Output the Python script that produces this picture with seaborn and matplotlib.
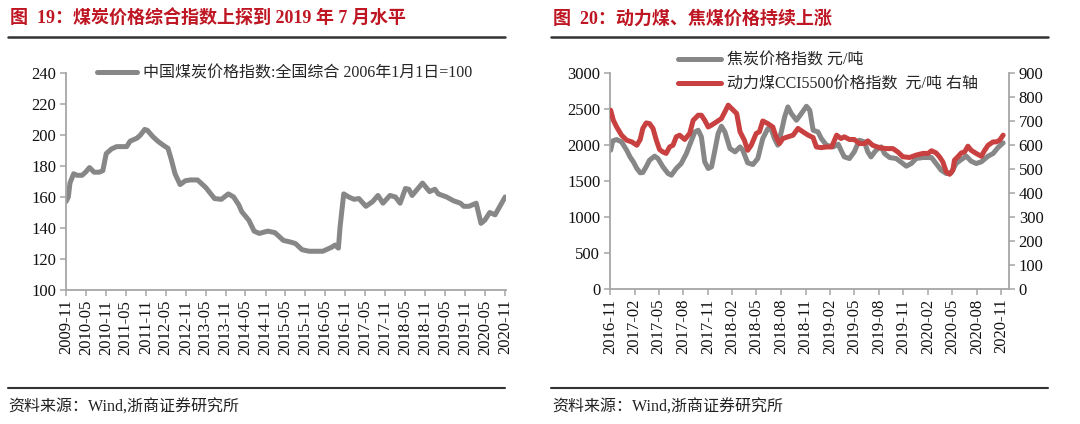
import numpy as np
import pandas as pd
import matplotlib
matplotlib.use('Agg')
import matplotlib.pyplot as plt
import seaborn as sns
from matplotlib.lines import Line2D

sns.set_theme(style='ticks')
plt.rcParams['font.family'] = ['Liberation Serif', 'Noto Sans CJK SC', 'DejaVu Sans']

# ---------------- data: left chart (China coal price index) ----------------
COAL_BASE = '2009-11-01'
COAL_MONTHS = [0, 0.7, 1.2, 2.3, 3.3, 4.9, 5.9, 7.1, 8.5, 10, 11.1, 12.1, 13.7, 15.2, 18.3,
               19.3, 21.4, 22.4, 23.7, 24.5, 26.1, 27.6, 29.2, 30.7, 31.7, 32.8, 34.3, 35.9,
               37.4, 39.5, 41.1, 42.1, 44.7, 46.7, 48.8, 50.4, 51.9, 52.9, 55, 56.6, 58.1,
               60.7, 62.8, 65.4, 67.4, 69, 71, 73.1, 77.2, 79.8, 80.9, 81.9, 82.4, 83.5, 85,
               86.6, 88.1, 90.2, 92.2, 93.8, 95.3, 97.4, 99, 100.5, 102.1, 103.1, 104.1,
               107.2, 109.3, 110.9, 111.9, 114.5, 116.5, 118.6, 119.6, 121.2, 123.3, 124.8,
               125.9, 127.4, 129, 132]
COAL_VALUES = [157, 160, 169, 175, 174, 174, 176, 179, 176, 176, 177, 188, 191, 192.5, 192.5,
               196, 198, 200, 203.6, 203, 199, 196, 193.5, 191.4, 184, 175, 168, 170.5,
               171, 171, 168, 166, 159, 158.5, 162, 160, 155, 150.5, 145, 138, 136.5,
               138, 137, 132, 131, 130, 126, 125, 125, 127.5, 129, 127, 141, 162, 160,
               158.5, 159, 154, 157, 161, 156, 161, 160, 156, 165.5, 165, 161,
               169, 163.5, 165, 162, 160, 157.6, 156, 154, 154, 156, 143,
               145, 150, 148.5, 160]
LEFT_TICKS = ['2009-11', '2010-05', '2010-11', '2011-05', '2011-11', '2012-05', '2012-11',
              '2013-05', '2013-11', '2014-05', '2014-11', '2015-05', '2015-11', '2016-05',
              '2016-11', '2017-05', '2017-11', '2018-05', '2018-11', '2019-05', '2019-11',
              '2020-05', '2020-11']
LEFT_LABEL = '中国煤炭价格指数:全国综合 2006年1月1日=100'

# ---------------- data: right chart ----------------
RIGHT_BASE = '2016-11-01'
COKE_MONTHS = [0.08, 0.33, 0.82, 1.43, 2.04, 2.45, 2.86, 3.27, 3.68, 4.08,
               4.49, 4.9, 5.51, 5.92, 6.54, 7.15, 7.56, 8.17, 8.78, 9.4,
               10.01, 10.42, 10.83, 11.23, 11.64, 12.05, 12.46, 12.87, 13.28, 13.68,
               14.09, 14.71, 15.32, 15.93, 16.34, 16.95, 17.57, 18.18, 18.79, 19.4,
               19.81, 20.22, 20.63, 21.04, 21.45, 21.85, 22.26, 22.88, 23.49, 24.1,
               24.51, 24.92, 25.53, 25.94, 26.55, 27.37, 27.98, 28.39, 28.8, 29.41,
               30.02, 30.64, 31.25, 31.66, 32.07, 32.68, 33.29, 33.7, 34.31, 35.13,
               35.95, 36.36, 36.97, 37.58, 38.4, 39.42, 40.03, 40.65, 41.26, 41.87,
               42.48, 43.1, 43.71, 44.32, 44.93, 45.55, 46.36, 46.98, 47.59, 48.2]
COKE_VALUES = [1928, 2057, 2076, 2043, 1928, 1835, 1766, 1674, 1614, 1618,
               1697, 1789, 1845, 1812, 1697, 1604, 1581, 1674, 1743, 1882,
               2067, 2182, 2205, 2113, 1766, 1674, 1697, 1928, 2159, 2261,
               2182, 1951, 1905, 1974, 1928, 1752, 1729, 1812, 2090, 2228,
               2219, 2090, 1997, 2182, 2390, 2529, 2436, 2344, 2436, 2538,
               2483, 2205, 2182, 2090, 1997, 1974, 2011, 1928, 1835, 1812,
               1905, 2067, 2043, 1905, 1835, 1928, 1974, 1882, 1826, 1812,
               1743, 1706, 1743, 1812, 1826, 1826, 1743, 1650, 1604, 1614,
               1743, 1798, 1845, 1775, 1743, 1766, 1845, 1882, 1965, 2030]
CCI_MONTHS = [0.08, 0.41, 0.82, 1.43, 2.04, 2.66, 3.27, 3.68, 4.08, 4.49,
              4.9, 5.31, 5.72, 6.13, 6.54, 6.94, 7.35, 7.76, 8.17, 8.58,
              9.19, 9.8, 10.21, 10.83, 11.23, 11.64, 12.05, 12.46, 13.07, 13.68,
              14.09, 14.5, 14.91, 15.52, 15.93, 16.54, 16.95, 17.36, 17.97, 18.38,
              18.79, 19.4, 20.02, 20.42, 20.83, 21.24, 21.85, 22.47, 23.08, 23.69,
              24.31, 24.92, 25.33, 25.94, 26.55, 27.17, 27.78, 28.39, 28.8, 29.41,
              30.02, 30.64, 31.25, 31.66, 32.27, 33.09, 33.91, 34.72, 35.33, 35.95,
              36.76, 37.58, 38.4, 39.01, 39.42, 40.03, 40.44, 40.85, 41.26, 41.67,
              42.08, 42.28, 42.69, 43.1, 43.5, 43.91, 44.32, 44.93, 45.55, 45.96,
              46.36, 46.98, 47.39, 47.79, 48.2]
CCI_VALUES = [745, 703, 675, 641, 620, 613, 599, 623, 669, 692,
              689, 669, 620, 581, 571, 565, 592, 599, 634, 641,
              623, 648, 703, 724, 724, 703, 675, 683, 696, 710,
              738, 766, 752, 731, 655, 620, 578, 599, 648, 655,
              700, 689, 675, 634, 606, 627, 634, 641, 669, 655,
              641, 631, 592, 589, 592, 592, 641, 627, 634, 623,
              623, 606, 606, 617, 599, 589, 585, 585, 571, 551,
              548, 558, 565, 565, 576, 567, 551, 530, 488, 478,
              495, 537, 551, 567, 571, 595, 578, 565, 553, 578,
              599, 613, 613, 620, 641]
RIGHT_TICKS = ['2016-11', '2017-02', '2017-05', '2017-08', '2017-11', '2018-02', '2018-05',
               '2018-08', '2018-11', '2019-02', '2019-05', '2019-08', '2019-11', '2020-02',
               '2020-05', '2020-08', '2020-11']
COKE_LABEL = '焦炭价格指数 元/吨'
CCI_LABEL = '动力煤CCI5500价格指数  元/吨 右轴'

TITLE_L = '图  19：煤炭价格综合指数上探到 2019 年 7 月水平'
TITLE_R = '图  20：动力煤、焦煤价格持续上涨'
SOURCE = '资料来源：Wind,浙商证券研究所'


def to_dates(base, months):
    b = pd.Timestamp(base)
    out = []
    for m in months:
        whole = int(np.floor(m))
        out.append(b + pd.DateOffset(months=whole) + pd.Timedelta(days=(m - whole) * 30.44))
    return pd.to_datetime(out)


coal_df = pd.DataFrame({'date': to_dates(COAL_BASE, COAL_MONTHS), 'value': COAL_VALUES})
coke_df = pd.DataFrame({'date': to_dates(RIGHT_BASE, COKE_MONTHS), 'value': COKE_VALUES})
cci_df = pd.DataFrame({'date': to_dates(RIGHT_BASE, CCI_MONTHS), 'value': CCI_VALUES})

GRAY = '#878787'
RED = '#C8403F'
SPINE = '#A6A6A6'
TITLE_RED = '#BE1622'
LW = 3.6

W, H = 1080, 424
fig = plt.figure(figsize=(10.8, 4.24), dpi=100)


def fx(px):
    return px / W


def fy(py):
    return 1 - py / H


ax1 = fig.add_axes([fx(66), fy(290), fx(506) - fx(66), fy(73) - fy(290)])
ax2 = fig.add_axes([fx(610), fy(289), fx(1009) - fx(610), fy(73) - fy(289)])
ax2r = ax2.twinx()

sns.lineplot(data=coal_df, x='date', y='value', ax=ax1, color=GRAY, lw=LW,
             solid_joinstyle='round', solid_capstyle='round', legend=False)
sns.lineplot(data=coke_df, x='date', y='value', ax=ax2, color=GRAY, lw=LW,
             solid_joinstyle='round', solid_capstyle='round', legend=False)
sns.lineplot(data=cci_df, x='date', y='value', ax=ax2r, color=RED, lw=LW,
             solid_joinstyle='round', solid_capstyle='round', legend=False)

# left axes
ax1.set_ylim(100, 240)
ax1.set_yticks(np.arange(100, 241, 20))
lt = pd.to_datetime(LEFT_TICKS)
ax1.set_xlim(lt[0], lt[-1] + pd.Timedelta(days=8))
ax1.set_xticks(lt)
ax1.set_xticklabels(LEFT_TICKS, rotation=90)

# right axes
ax2.set_ylim(0, 3000)
ax2.set_yticks(np.arange(0, 3001, 500))
ax2r.set_ylim(0, 900)
ax2r.set_yticks(np.arange(0, 901, 100))
rt = pd.to_datetime(RIGHT_TICKS)
ax2.set_xlim(rt[0], rt[-1] + pd.Timedelta(days=28))
ax2.set_xticks(rt)
ax2.set_xticklabels(RIGHT_TICKS, rotation=90)

for a in (ax1, ax2, ax2r):
    a.set_xlabel('')
    a.set_ylabel('')
    for s in a.spines.values():
        s.set_color(SPINE)
        s.set_linewidth(1.3)
    a.spines['top'].set_visible(False)
    a.tick_params(axis='both', direction='out', length=4, width=1.1, color=SPINE,
                  labelsize=12, labelcolor='#111111', pad=3)
for a in (ax1, ax2):
    a.spines['right'].set_visible(False)
ax2r.spines['left'].set_visible(False)
ax2r.spines['bottom'].set_visible(False)

# legends
h_l = [Line2D([], [], color=GRAY, lw=LW)]
fig.legend(h_l, [LEFT_LABEL], loc='center left', bbox_to_anchor=(fx(97), fy(74)),
           frameon=False, fontsize=11.5, handlelength=2.5, handletextpad=0.4,
           borderpad=0, borderaxespad=0)
h_r = [Line2D([], [], color=GRAY, lw=LW), Line2D([], [], color=RED, lw=LW)]
fig.legend(h_r, [COKE_LABEL, CCI_LABEL], loc='upper left', bbox_to_anchor=(fx(678), fy(53)),
           frameon=False, fontsize=11.5, handlelength=2.7, handletextpad=0.35,
           labelspacing=0.45, borderpad=0, borderaxespad=0)

# titles, rules and sources
fig.text(fx(10), fy(19), TITLE_L, color=TITLE_RED, fontsize=13, fontweight='bold', va='center')
fig.text(fx(553), fy(19), TITLE_R, color=TITLE_RED, fontsize=13, fontweight='bold', va='center')
for x0, x1 in ((8, 505), (551, 1048)):
    fig.add_artist(Line2D([fx(x0), fx(x1)], [fy(37), fy(37)], color='#333333', lw=1.8))
    fig.add_artist(Line2D([fx(x0), fx(x1)], [fy(388), fy(388)], color='#333333', lw=1.5))
fig.text(fx(8), fy(408), SOURCE, fontsize=11.5, va='center', color='#222222')
fig.text(fx(552), fy(408), SOURCE, fontsize=11.5, va='center', color='#222222')

fig.savefig('out.png', dpi=100)
